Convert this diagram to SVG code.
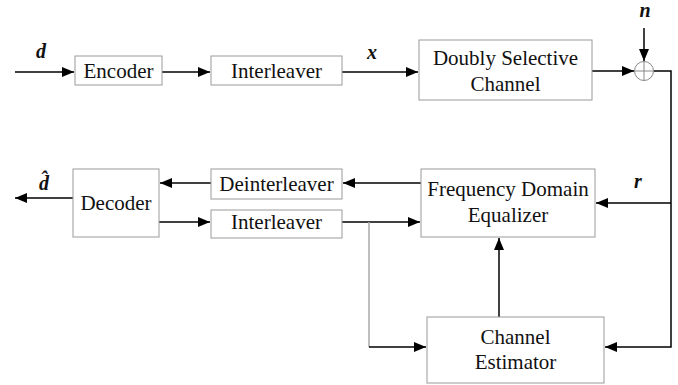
<svg xmlns="http://www.w3.org/2000/svg" width="678" height="385" viewBox="0 0 678 385">
<defs>
<style>
.box{fill:#fff;stroke:#9a9a9a;stroke-width:1}
.t{font-family:"Liberation Serif","Times New Roman",serif;font-size:21px;fill:#111;text-anchor:middle}
.lab{font-family:"Liberation Serif","Times New Roman",serif;font-size:20px;font-style:italic;font-weight:bold;fill:#111;text-anchor:middle}
.w{fill:none;stroke:#000;stroke-width:1.5}
.g{fill:none;stroke:#aaa;stroke-width:1.5}
</style>
<marker id="ah" markerUnits="userSpaceOnUse" markerWidth="13" markerHeight="11" refX="12" refY="5" orient="auto">
<path d="M0,0 L12,5 L0,10 z" fill="#000"/>
</marker>
</defs>
<rect width="678" height="385" fill="#fff"/>
<g id="connectors">
<line class="w" x1="15" y1="72" x2="74" y2="72" marker-end="url(#ah)"/>
<line class="w" x1="162" y1="72" x2="210" y2="72" marker-end="url(#ah)"/>
<line class="w" x1="342" y1="72" x2="418" y2="72" marker-end="url(#ah)"/>
<line class="w" x1="592" y1="71" x2="634" y2="71" marker-end="url(#ah)"/>
<line class="w" x1="644" y1="28" x2="644" y2="61" marker-end="url(#ah)"/>
<polyline class="w" points="653.5,71 671,71 671,347 605,347" marker-end="url(#ah)"/>
<line class="w" x1="671" y1="203" x2="596" y2="203" marker-end="url(#ah)"/>
<line class="w" x1="421" y1="183" x2="343" y2="183" marker-end="url(#ah)"/>
<line class="w" x1="211" y1="183" x2="160" y2="183" marker-end="url(#ah)"/>
<line class="w" x1="73" y1="198" x2="15" y2="198" marker-end="url(#ah)"/>
<line class="w" x1="159" y1="222" x2="210" y2="222" marker-end="url(#ah)"/>
<line class="w" x1="342" y1="222" x2="420" y2="222" marker-end="url(#ah)"/>
<polyline class="g" points="369,222 369,347"/>
<line class="w" x1="369" y1="347" x2="426" y2="347" marker-end="url(#ah)"/>
<line class="w" x1="499" y1="317" x2="499" y2="238" marker-end="url(#ah)"/>
</g>
<g id="adder">
<circle cx="644" cy="71" r="9.5" fill="none" stroke="#888" stroke-width="1"/>
<line x1="634.5" y1="71" x2="653.5" y2="71" stroke="#888" stroke-width="1"/>
<line x1="644" y1="61.5" x2="644" y2="80.5" stroke="#888" stroke-width="1"/>
</g>
<g id="labels">
<text class="lab" x="41" y="58">d</text>
<text class="lab" x="372" y="59">x</text>
<text class="lab" x="645" y="17">n</text>
<text class="lab" x="638" y="188">r</text>
<text class="lab" x="44" y="190">d&#x302;</text>
</g>
<g id="encoder"><rect class="box" x="75" y="56" width="87" height="29"/><text class="t" x="118.5" y="78">Encoder</text></g>
<g id="interleaver1"><rect class="box" x="211" y="56" width="131" height="29"/><text class="t" x="276.5" y="78">Interleaver</text></g>
<g id="channel"><rect class="box" x="419" y="40" width="173" height="60"/><text class="t" x="505.5" y="65">Doubly Selective</text><text class="t" x="505.5" y="91">Channel</text></g>
<g id="fde"><rect class="box" x="421" y="169" width="174" height="68"/><text class="t" x="508" y="196">Frequency Domain</text><text class="t" x="508" y="222">Equalizer</text></g>
<g id="deinterleaver"><rect class="box" x="211" y="169" width="131" height="30"/><text class="t" x="276.5" y="191">Deinterleaver</text></g>
<g id="interleaver2"><rect class="box" x="211" y="210" width="131" height="28"/><text class="t" x="276.5" y="229">Interleaver</text></g>
<g id="decoder"><rect class="box" x="73" y="169" width="86" height="68"/><text class="t" x="116" y="210">Decoder</text></g>
<g id="estimator"><rect class="box" x="427" y="317" width="177" height="66"/><text class="t" x="515.5" y="344">Channel</text><text class="t" x="515.5" y="369">Estimator</text></g>
</svg>
